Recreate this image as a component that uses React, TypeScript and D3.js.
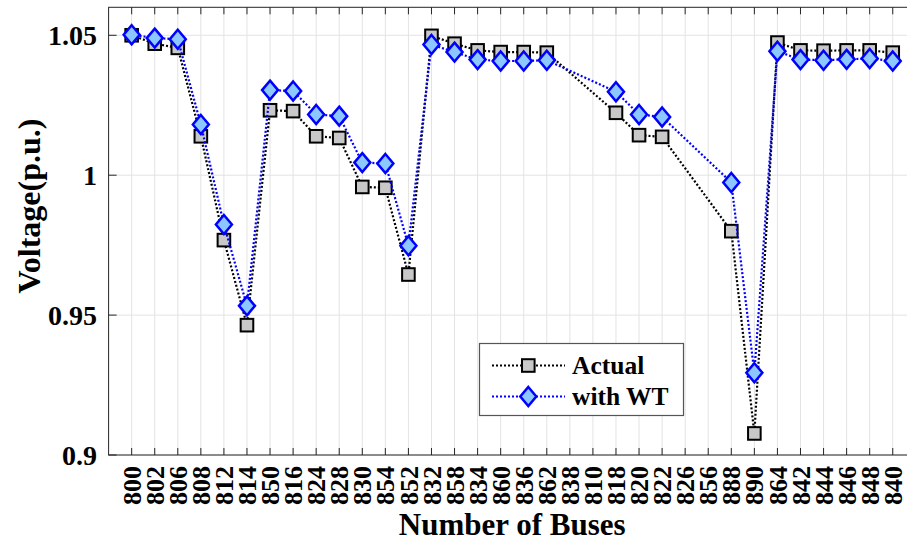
import React from "react";
import * as d3 from "d3";

const buses = ["800","802","806","808","812","814","850","816","824","828","830","854","852","832","858","834","860","836","862","838","810","818","820","822","826","856","888","890","864","842","844","846","848","840"];
const actual: (number | null)[] = [1.05,1.047,1.0455,1.0139,0.9768,0.9464,1.0232,1.0229,1.0139,1.0133,0.9958,0.9955,0.9645,1.0498,1.047,1.0446,1.044,1.044,1.0438,null,null,1.0223,1.0143,1.0137,null,null,0.98,0.9077,1.0474,1.0446,1.0445,1.0446,1.0446,1.0438];
const withWT: (number | null)[] = [1.0502,1.049,1.0486,1.0181,0.9824,0.9533,1.0304,1.0301,1.0217,1.0211,1.0045,1.0042,0.9748,1.0467,1.044,1.0413,1.0408,1.0408,1.0411,null,null,1.0298,1.0217,1.0208,null,null,0.9974,0.9294,1.0443,1.0413,1.0411,1.0414,1.0417,1.0408];
const yTicks = [0.9, 0.95, 1, 1.05];
const yTickLabels = ["0.9", "0.95", "1", "1.05"];
const seriesNames = ["Actual", "with WT"];

const W = 907, H = 543;
const left = 108.6, right = 915.8, top = 7.3, bottom = 455;
const font = "'Liberation Serif', 'Times New Roman', serif";

export default function App() {
  const x = d3.scaleLinear().domain([-1, buses.length]).range([left, right]);
  const y = d3.scaleLinear().domain([0.9, 1.06]).range([bottom, top]);
  const mkLine = (vals: (number | null)[]) => {
    const pts = vals.map((v, i) => [i, v] as [number, number | null]).filter(p => p[1] !== null) as [number, number][];
    return d3.line<[number, number]>().x(p => x(p[0])).y(p => y(p[1]))(pts) || "";
  };
  const sq = 6.3;
  const dw = 8, dh = 9.5;
  const diamond = (cx: number, cy: number) => `M${cx},${cy - dh}L${cx + dw},${cy}L${cx},${cy + dh}L${cx - dw},${cy}Z`;
  const legX = 479.5, legY = 343.5, legW = 204, legH = 72;
  const row1 = 365.5, row2 = 396.5;
  return (
    <svg width={W} height={H} style={{ position: "absolute", left: 0, top: 0, background: "#fff" }}>
      <defs>
        <clipPath id="plotclip"><rect x={0} y={0} width={W} height={H} /></clipPath>
      </defs>
      {/* grid */}
      <g stroke="#e3e3e3" strokeWidth={1}>
        {buses.map((b, i) => (
          <line key={"gx" + b} x1={x(i)} x2={x(i)} y1={top} y2={bottom} />
        ))}
        {yTicks.map(t => (
          <line key={"gy" + t} x1={left} x2={right} y1={y(t)} y2={y(t)} />
        ))}
      </g>
      {/* axes box and ticks */}
      <g stroke="#262626" strokeWidth={1} fill="none">
        <rect x={left} y={top} width={right - left} height={bottom - top} />
        {buses.map((b, i) => (
          <g key={"tx" + b}>
            <line x1={x(i)} x2={x(i)} y1={bottom} y2={bottom - 7} />
            <line x1={x(i)} x2={x(i)} y1={top} y2={top + 7} />
          </g>
        ))}
        {yTicks.map(t => (
          <g key={"ty" + t}>
            <line x1={left} x2={left + 8} y1={y(t)} y2={y(t)} />
            <line x1={right} x2={right - 8} y1={y(t)} y2={y(t)} />
          </g>
        ))}
      </g>
      {/* tick labels */}
      <g fontFamily={font} fontWeight="bold" fill="#000">
        {yTicks.map((t, i) => (
          <text key={"yl" + t} x={97} y={y(t)} dy="0.36em" textAnchor="end" fontSize={28}>{yTickLabels[i]}</text>
        ))}
        {buses.map((b, i) => (
          <text key={"xl" + b} transform={`translate(${x(i)},466) rotate(-90)`} dy="0.35em" textAnchor="end" fontSize={26}>{b}</text>
        ))}
        <text x={(left + right) / 2} y={535} textAnchor="middle" fontSize={31}>Number of Buses</text>
        <text transform={`translate(40,206) rotate(-90)`} textAnchor="middle" fontSize={32}>Voltage(p.u.)</text>
      </g>
      {/* series */}
      <g>
        <path d={mkLine(actual)} fill="none" stroke="#000" strokeWidth={2.2} strokeDasharray="2 2" />
        {actual.map((v, i) => v === null ? null : (
          <rect key={"a" + i} x={x(i) - sq} y={y(v) - sq} width={sq * 2} height={sq * 2} fill="#c8c8c8" stroke="#000" strokeWidth={2} />
        ))}
        <path d={mkLine(withWT)} fill="none" stroke="#0000ff" strokeWidth={2.2} strokeDasharray="2 2" />
        {withWT.map((v, i) => v === null ? null : (
          <path key={"w" + i} d={diamond(x(i), y(v))} fill="#8cc8ff" stroke="#0000ff" strokeWidth={2.5} />
        ))}
      </g>
      {/* legend */}
      <g>
        <rect x={legX} y={legY} width={legW} height={legH} fill="#fff" stroke="#555" strokeWidth={1.2} />
        <line x1={492} x2={565} y1={row1} y2={row1} stroke="#000" strokeWidth={2} strokeDasharray="2 2" />
        <rect x={528.3 - sq} y={row1 - sq} width={sq * 2} height={sq * 2} fill="#c8c8c8" stroke="#000" strokeWidth={2} />
        <line x1={492} x2={565} y1={row2} y2={row2} stroke="#0000ff" strokeWidth={2} strokeDasharray="2 2" />
        <path d={diamond(528.3, row2)} fill="#8cc8ff" stroke="#0000ff" strokeWidth={2.5} />
        <g fontFamily={font} fontWeight="bold" fontSize={25.5} fill="#000">
          <text x={572} y={row1} dy="0.35em">{seriesNames[0]}</text>
          <text x={572} y={row2} dy="0.35em">{seriesNames[1]}</text>
        </g>
      </g>
    </svg>
  );
}
